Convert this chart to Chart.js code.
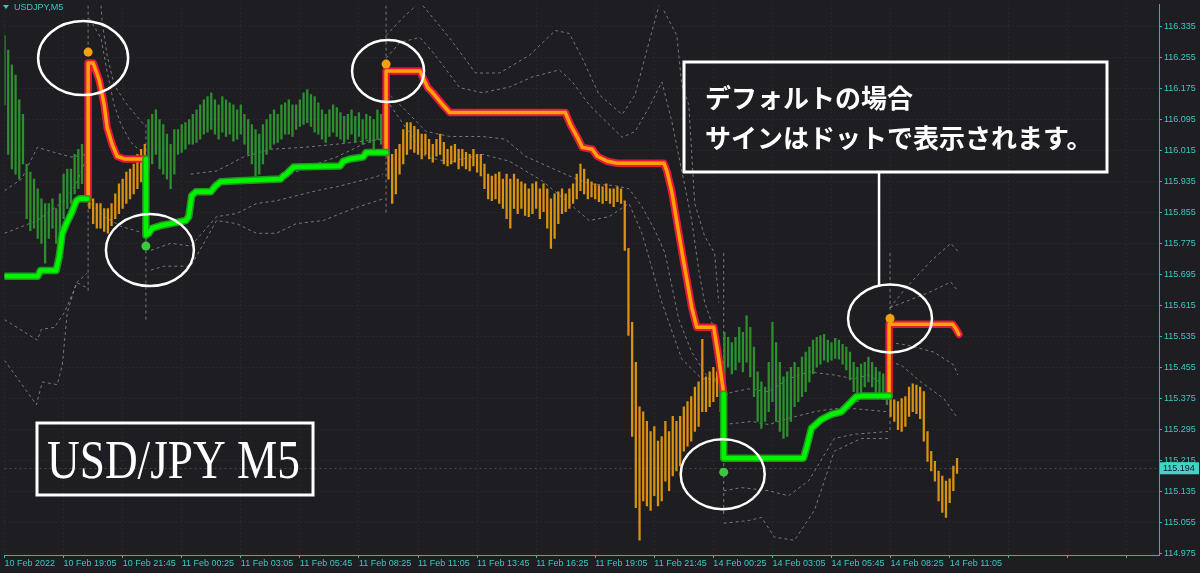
<!DOCTYPE html>
<html>
<head>
<meta charset="utf-8">
<title>USDJPY M5</title>
<script src="https://cdn.jsdelivr.net/npm/chart.js@4.4.1/dist/chart.umd.min.js"></script>
<style>
  html, body { margin: 0; padding: 0; background: #1d1d22; }
  #wrap { width: 1200px; height: 573px; }
</style>
</head>
<body>
<div id="wrap"><canvas id="chart" width="1200" height="573"></canvas></div>
<script>
// ---------------- Data ----------------
// x unit = one M5 bar, candles are kept every second bar
const timeLabels = ["10 Feb 2022", "10 Feb 19:05", "10 Feb 21:45", "11 Feb 00:25", "11 Feb 03:05",
  "11 Feb 05:45", "11 Feb 08:25", "11 Feb 11:05", "11 Feb 13:45", "11 Feb 16:25", "11 Feb 19:05",
  "11 Feb 21:45", "14 Feb 00:25", "14 Feb 03:05", "14 Feb 05:45", "14 Feb 08:25", "14 Feb 11:05"];
const barsPerLabel = 32;

const priceTicks = [114.975, 115.055, 115.135, 115.215, 115.295, 115.375, 115.455, 115.535, 115.615,
  115.695, 115.775, 115.855, 115.935, 116.015, 116.095, 116.175, 116.255, 116.335];
const lastPrice = 115.194;

const barHigh = [
  116.312,116.274,116.236,116.210,116.146,116.108,115.980,115.959,115.941,115.916,
  115.890,115.878,115.878,115.890,115.865,115.903,115.954,115.967,115.967,116.005,
  116.018,116.031,116.005,116.031,115.890,115.878,115.878,115.865,115.865,115.878,
  115.903,115.929,115.941,115.959,115.967,115.980,116.005,116.018,116.031,116.095,
  116.108,116.120,116.095,116.082,116.057,116.031,116.069,116.069,116.082,116.087,
  116.095,116.108,116.120,116.133,116.146,116.154,116.164,116.146,116.133,116.154,
  116.146,116.138,116.133,116.120,116.133,116.108,116.095,116.082,116.069,116.057,
  116.082,116.095,116.108,116.120,116.108,116.133,116.138,116.146,116.133,116.133,
  116.146,116.164,116.172,116.159,116.154,116.138,116.120,116.108,116.120,116.133,
  116.126,116.113,116.103,116.108,116.120,116.103,116.113,116.095,116.108,116.103,
  116.095,116.120,116.108,116.082,116.018,116.005,116.018,116.031,116.069,116.087,
  116.087,116.077,116.069,116.057,116.057,116.044,116.031,116.044,116.057,116.036,
  116.018,116.026,116.031,116.018,116.018,116.010,116.005,116.018,116.005,116.005,
  115.980,115.954,115.949,115.954,115.959,115.941,115.954,115.941,115.954,115.941,
  115.934,115.929,115.916,115.929,115.934,115.916,115.929,115.916,115.890,115.903,
  115.908,115.916,115.903,115.916,115.929,115.954,115.980,115.967,115.941,115.934,
  115.929,115.924,115.921,115.929,115.916,115.916,115.921,115.916,115.885,115.762,
  115.571,115.468,115.353,115.340,115.315,115.289,115.302,115.264,115.276,115.315,
  115.289,115.328,115.315,115.328,115.353,115.366,115.379,115.404,115.417,115.527,
  115.430,115.443,115.455,115.443,115.417,115.545,115.532,115.519,115.532,115.558,
  115.545,115.588,115.558,115.507,115.443,115.417,115.404,115.468,115.571,115.519,
  115.468,115.430,115.443,115.455,115.468,115.455,115.481,115.494,115.507,115.525,
  115.532,115.537,115.540,115.525,115.519,115.530,115.525,115.514,115.507,115.494,
  115.468,115.455,115.463,115.468,115.481,115.468,115.455,115.443,115.438,115.430,
  115.392,115.371,115.366,115.374,115.379,115.404,115.412,115.409,115.404,115.392,
  115.289,115.238,115.212,115.187,115.174,115.161,115.167,115.200,115.220
];
const barLow = [
  116.133,116.005,115.967,115.954,115.941,115.980,115.839,115.808,115.814,115.788,
  115.775,115.724,115.788,115.814,115.775,115.801,115.839,115.865,115.878,115.903,
  115.916,115.929,115.890,115.865,115.826,115.814,115.814,115.806,115.801,115.821,
  115.839,115.852,115.865,115.878,115.890,115.903,115.916,115.934,115.941,115.967,
  115.980,116.005,115.967,115.954,115.941,115.916,115.954,116.005,116.010,116.018,
  116.031,116.031,116.036,116.044,116.057,116.062,116.069,116.057,116.044,116.062,
  116.051,116.057,116.039,116.044,116.057,116.031,116.005,115.980,115.949,115.954,
  115.980,116.005,116.018,116.031,116.036,116.044,116.057,116.057,116.051,116.069,
  116.077,116.082,116.087,116.077,116.062,116.057,116.044,116.036,116.051,116.062,
  116.051,116.044,116.036,116.044,116.057,116.036,116.051,116.031,116.044,116.036,
  116.018,116.044,116.031,116.005,115.941,115.878,115.903,115.954,115.980,116.005,
  116.018,116.010,116.005,115.993,116.005,115.993,115.985,116.000,116.005,115.980,
  115.975,115.980,115.985,115.967,115.975,115.967,115.962,115.975,115.959,115.949,
  115.916,115.890,115.885,115.890,115.878,115.865,115.839,115.814,115.865,115.852,
  115.865,115.847,115.844,115.852,115.865,115.839,115.857,115.814,115.762,115.788,
  115.826,115.852,115.857,115.865,115.878,115.890,115.911,115.903,115.890,115.895,
  115.890,115.883,115.878,115.885,115.878,115.870,115.883,115.878,115.757,115.537,
  115.276,115.092,115.008,115.110,115.097,115.085,115.123,115.097,115.110,115.161,
  115.136,115.174,115.187,115.200,115.238,115.251,115.264,115.289,115.302,115.340,
  115.340,115.353,115.366,115.379,115.340,115.392,115.455,115.438,115.448,115.468,
  115.443,115.468,115.430,115.379,115.315,115.297,115.315,115.340,115.366,115.315,
  115.289,115.271,115.276,115.315,115.353,115.366,115.379,115.392,115.417,115.438,
  115.455,115.463,115.473,115.468,115.473,115.478,115.476,115.463,115.448,115.422,
  115.392,115.366,115.386,115.404,115.417,115.404,115.386,115.379,115.371,115.358,
  115.328,115.315,115.294,115.289,115.302,115.328,115.340,115.335,115.322,115.264,
  115.212,115.187,115.161,115.110,115.080,115.067,115.105,115.136,115.181
];

// trailing stop lines (null = break)
const greenX = [0, 18, 19.5, 28, 29.7, 31.3, 33.5, 36.2, 38.9, 40.5, 44.8, null,
  76.6, 76.6, 78.2, 79.9, 84.7, 90.1, 98.2, 99.8, 101.4, 103.6, 111.7, 114.4, 117.1, 124.1, 149.5,
  151.1, 152.7, 156.5, 181.8, 183.5, 187.2, 194.3, 195.9, 205.1, 206.7, null,
  389.6, 389.6, 432.8, 434.4, 437.1, 442.5, 447.9, 453.3, 456, 461.4, 465.1, 479.2];
const greenY = [115.690, 115.690, 115.705, 115.705, 115.742, 115.801, 115.826, 115.852, 115.885, 115.890, 115.890, null,
  115.993, 115.796, 115.801, 115.814, 115.821, 115.826, 115.834, 115.844, 115.898, 115.908, 115.908, 115.924, 115.934, 115.936, 115.941,
  115.949, 115.954, 115.972, 115.975, 115.987, 115.993, 115.998, 116.010, 116.010, 116.010, null,
  115.386, 115.220, 115.220, 115.246, 115.297, 115.320, 115.333, 115.340, 115.353, 115.379, 115.381, 115.381];

const redX = [45.3, 45.3, 48, 51.3, 54, 55.6, 58.3, 61, 64.8, 76.6, null,
  206.7, 206.7, 225, 229.3, 232, 237.4, 241.2, 303.8, 306.5, 310.3, 313, 318.4, 321.1, 326.5, 331.9,
  357.2, 358.8, 361.5, 364.2, 366.9, 372.3, 375, 384.2, 386.4, 388.5, 389.6, null,
  479.2, 479.2, 513.7, 515.3, 517];
const redY = [115.890, 116.241, 116.241, 116.197, 116.133, 116.074, 116.031, 116.000, 115.993, 115.993, null,
  116.010, 116.220, 116.220, 116.177, 116.164, 116.133, 116.113, 116.113, 116.082, 116.049, 116.023, 116.018, 116.000, 115.987, 115.982,
  115.982, 115.962, 115.908, 115.831, 115.755, 115.609, 115.558, 115.558, 115.494, 115.425, 115.386, null,
  115.381, 115.566, 115.566, 115.555, 115.540];

// signal dots
const sellX = [45.3, 206.7, 479.7];
const sellY = [116.269, 116.238, 115.581];
const buyX = [76.6, 389.6];
const buyY = [115.768, 115.184];

// dashed band lines
const band1X = [0, 9.2, 17.8, 27, 36.2, 44.2, null,
  45.9, 52.3, 55.6, 59.4, 63.1, 68.5, 75.5, null,
  100.9, 114.9, 129.5, 144.1, 161.9, 179.7, 194.3, 205.1, null,
  208.8, 228.3, 241.2, 259, 273.6, 291.4, 306, 316.7, 327.5, 338.3, 345.3, 356.1, 366.9, 377.7, 386.9, null,
  389.6, 399.3, 413.9, 424.7, 435.5, 449.5, 460.3, 478.6, null,
  479.7, 485.6, 496.4, 508.8, 516.4];
const band1Y = [115.911, 115.941, 116.023, 116.010, 115.998, 116.005, null,
  116.356, 116.305, 116.218, 116.133, 116.082, 116.036, 116.005, null,
  115.954, 115.962, 115.998, 116.018, 116.023, 116.031, 116.039, 116.044, null,
  116.133, 115.998, 115.985, 116.005, 115.987, 115.936, 115.878, 115.834, 115.844, 115.878, 115.801, 115.622, 115.476, 115.425, 115.425, null,
  115.136, 115.144, 115.136, 115.123, 115.161, 115.271, 115.282, 115.289, null,
  115.468, 115.461, 115.417, 115.374, 115.323];

const band2X = [0, 17.8, 32.4, 38.9, 43.2, null,
  52.3, 52.9, 55.6, 59.4, 66.4, 75.5, null,
  79.3, 90.1, 100.9, 114.9, 125.7, 136.5, 147.3, 158.1, 168.9, 179.7, 190.5, 201.3, 205.1, null,
  206.7, 215.8, 228.3, 241.2, 259, 271.4, 282.2, 295.2, 306, 316.7, 330.8, 338.3, 345.3, 352.4, 357.8, 361.5, 365.3, 372.3, 381.5, 386.9, null,
  389.6, 404.7, 413.9, 424.7, 438.7, 449.5, 460.3, 478.6, null,
  479.7, 489.4, 503.5, 514.2, 516.4];
const band2Y = [115.801, 115.834, 115.885, 115.929, 115.980, null,
  116.389, 116.346, 116.261, 116.184, 116.133, 116.082, null,
  115.757, 115.775, 115.768, 115.844, 115.852, 115.878, 115.885, 115.898, 115.911, 115.921, 115.934, 115.947, 115.954, null,
  116.166, 116.126, 116.064, 116.051, 116.051, 116.044, 116.000, 115.972, 115.949, 115.929, 115.924, 115.916, 115.870, 115.808, 115.750, 115.665, 115.578, 115.494, 115.425, 115.417, null,
  115.307, 115.315, 115.307, 115.323, 115.340, 115.348, 115.348, 115.340, null,
  115.519, 115.512, 115.494, 115.461, 115.435];

const band3X = [0, 17.8, 20, 27, 32.4, 39.4, 44.8, null,
  46.9, 54, 63.1, 75.5, null,
  79.3, 86.3, 100.9, 114.9, 125.7, 136.5, 147.3, 158.1, 172.7, 188.9, 205.1, null,
  206.7, 214.2, 225, 232, 246.6, 259, 273.6, 286, 300.6, 307.6, 316.7, 327.5, 334.6, 341.6, 349.1, 356.1, 361.5, 366.9, 372.3, 376.1, 379.3, 386.9, null,
  389.6, 395.5, 403.1, 413.9, 424.7, 435.5, 449.5, 460.3, 467.8, 476.5, null,
  479.7, 500.2, 512.6, 516.4];
const band3Y = [115.578, 115.525, 115.553, 115.558, 115.596, 115.673, 115.660, null,
  115.878, 115.844, 115.819, 115.801, null,
  115.706, 115.716, 115.716, 115.834, 115.826, 115.801, 115.801, 115.826, 115.834, 115.865, 115.890, null,
  116.253, 116.294, 116.307, 116.269, 116.177, 116.164, 116.179, 116.205, 116.223, 116.192, 116.133, 116.082, 116.049, 116.064, 116.126, 116.192, 116.090, 115.962, 115.834, 115.706, 115.622, 115.519, null,
  115.384, 115.392, 115.399, 115.392, 115.425, 115.443, 115.435, 115.425, 115.435, 115.410, null,
  115.609, 115.647, 115.675, 115.652];

const band4X = [0, 17.3, 20.5, 28.6, 31.3, 34, 38.9, 44.8, null,
  154.9, 168.9, 179.7, 194.3, 205.1, null,
  206.7, 215.8, 222.9, null,
  226.6, 241.2, 255.2, 268.2, 284.4, 298.4, 306, 313, 322.1, 334.6, 341.6, 349.1, 354.5, null,
  357.2, 364.2, 366.9, 370.7, 373.9, 379.3, 384.7, 386.9, null,
  389.6, 403.1, 410.1, 417.1, 427.9, 438.7, 449.5, 464.1, 478.6, null,
  479.7, 488.3, 501.8, 512.6, 516.4];
const band4Y = [115.473, 115.358, 115.417, 115.410, 115.461, 115.596, 115.673, 115.698, null,
  115.954, 115.980, 115.998, 116.031, 116.049, null,
  116.312, 116.358, 116.389, null,
  116.389, 116.305, 116.215, 116.215, 116.261, 116.325, 116.317, 116.253, 116.159, 116.108, 116.159, 116.294, 116.389, null,
  116.376, 116.312, 116.184, 116.133, 115.878, 115.793, 115.750, 115.622, null,
  115.052, 115.059, 115.067, 115.016, 115.008, 115.085, 115.238, 115.271, 115.271, null,
  115.609, 115.660, 115.729, 115.775, 115.755];

// dashed verticals through the signal bars
const vlineX = [45.3, 76.6, 206.7, 389.6, 479.7];
const vlineTop = [116.389, 116.082, 116.389, 115.750, 115.750];
const vlineBottom = [115.647, 115.571, 115.852, 115.067, 115.289];

const symbolLabel = "USDJPY,M5";
const pairLabel = "USD/JPY M5";
const noteLines = ["デフォルトの場合", "サインはドットで表示されます。"];

// ---------------- Style ----------------
const BG = "#1d1d22";
const TEAL = "#3cc8c2";
const AXIS = "#2bb8b0";
const GRID = "#303037";
const UP_BAR = "#2c912c";
const DOWN_BAR = "#dc920f";
const BAND = "rgba(150,150,156,0.75)";
const TICK_FONT = { family: '"Liberation Sans", Arial, sans-serif', size: 9 };

// rings drawn round each dot (offset and radii in px)
const sellRings = [{ dx: -5, dy: 6, rx: 45, ry: 37 }, { dx: 2, dy: 7, rx: 36, ry: 31 }, { dx: 0, dy: 0, rx: 42, ry: 34 }];
const buyRings = [{ dx: 4, dy: 4, rx: 44, ry: 36 }, { dx: -1, dy: 2, rx: 42, ry: 35 }];

// ---------------- Helpers ----------------
function toPoints(xs, ys) {
  return xs.map((x, i) => ({ x: x, y: ys[i] }));
}

function isDown(bar) {
  const signals = sellX.map(s => ({ at: s, down: true }))
    .concat(buyX.map(b => ({ at: b, down: false })))
    .sort((a, b) => a.at - b.at);
  let down = false;
  signals.forEach(s => { if (bar >= s.at - 0.5) down = s.down; });
  return down;
}

function bandSet(xs, ys) {
  return {
    type: "line", data: toPoints(xs, ys), borderColor: BAND, borderWidth: 1,
    borderDash: [3, 3], pointRadius: 0, spanGaps: false, order: 20
  };
}

function trendSet(xs, ys, color, width, order) {
  return {
    type: "line", data: toPoints(xs, ys), borderColor: color, borderWidth: width,
    borderJoinStyle: "round", borderCapStyle: "round", pointRadius: 0,
    spanGaps: false, tension: 0, order: order
  };
}

const candleData = barHigh.map((h, i) => ({ x: i * 2, y: [barLow[i], h] }));
const candleColors = candleData.map(d => isDown(d.x) ? DOWN_BAR : UP_BAR);

const vlineData = [];
vlineX.forEach((x, i) => {
  vlineData.push({ x: x, y: vlineTop[i] }, { x: x, y: vlineBottom[i] }, { x: null, y: null });
});

const gridBars = [];
for (let k = 0; k < 20; k++) gridBars.push(k * barsPerLabel);

// ---------------- Plugins ----------------
const background = {
  id: "background",
  beforeDraw(chart) {
    const ctx = chart.ctx;
    ctx.save();
    ctx.fillStyle = BG;
    ctx.fillRect(0, 0, chart.width, chart.height);
    ctx.restore();
  }
};

const priceLine = {
  id: "priceLine",
  beforeDatasetsDraw(chart) {
    const { ctx, chartArea, scales } = chart;
    const y = Math.round(scales.y.getPixelForValue(lastPrice)) + 0.5;
    ctx.save();
    ctx.strokeStyle = "rgba(120,120,128,0.45)";
    ctx.setLineDash([2, 3]);
    ctx.beginPath();
    ctx.moveTo(chartArea.left, y);
    ctx.lineTo(chartArea.right, y);
    ctx.stroke();
    ctx.restore();
  }
};

function ring(ctx, cx, cy, rx, ry) {
  ctx.beginPath();
  ctx.ellipse(cx, cy, rx, ry, 0, 0, Math.PI * 2);
  ctx.stroke();
}

const notes = {
  id: "notes",
  afterDraw(chart) {
    const { ctx, chartArea, scales } = chart;
    const sx = scales.x, sy = scales.y;
    ctx.save();

    // rings
    ctx.strokeStyle = "#ffffff";
    ctx.lineWidth = 2.5;
    const ringPos = [];
    sellX.forEach((x, i) => {
      const r = sellRings[i];
      const c = { x: sx.getPixelForValue(x) + r.dx, y: sy.getPixelForValue(sellY[i]) + r.dy, rx: r.rx, ry: r.ry };
      ringPos.push(c);
      ring(ctx, c.x, c.y, c.rx, c.ry);
    });
    buyX.forEach((x, i) => {
      const r = buyRings[i];
      ring(ctx, sx.getPixelForValue(x) + r.dx, sy.getPixelForValue(buyY[i]) + r.dy, r.rx, r.ry);
    });

    // note box + connector to the last ring
    const box = { left: 684, top: 62, right: 1107, bottom: 172 };
    ctx.lineWidth = 3;
    ctx.strokeRect(box.left, box.top, box.right - box.left, box.bottom - box.top);
    const last = ringPos[ringPos.length - 1];
    const lx = last.x - 11;
    const ly = last.y - last.ry * Math.sqrt(1 - Math.pow((lx - last.x) / last.rx, 2));
    ctx.lineWidth = 2.5;
    ctx.beginPath();
    ctx.moveTo(lx, box.bottom);
    ctx.lineTo(lx, ly);
    ctx.stroke();

    ctx.fillStyle = "#ffffff";
    ctx.font = 'bold 26px "Noto Sans CJK JP", sans-serif';
    ctx.textBaseline = "middle";
    ctx.textAlign = "left";
    ctx.fillText(noteLines[0], 705, 98);
    ctx.fillText(noteLines[1], 705, 138);

    // pair box
    ctx.lineWidth = 3;
    ctx.strokeRect(37, 423, 276, 72);
    ctx.font = '54px "Liberation Serif", serif';
    ctx.textBaseline = "alphabetic";
    const w = ctx.measureText(pairLabel).width;
    ctx.save();
    ctx.translate(47, 478);
    ctx.scale(253 / w, 1);
    ctx.fillText(pairLabel, 0, 0);
    ctx.restore();

    // symbol caption top-left
    ctx.fillStyle = TEAL;
    ctx.beginPath();
    ctx.moveTo(3, 5);
    ctx.lineTo(9, 5);
    ctx.lineTo(6, 9);
    ctx.closePath();
    ctx.fill();
    ctx.font = '9px "Liberation Sans", Arial, sans-serif';
    ctx.textBaseline = "middle";
    ctx.fillText(symbolLabel, 14, 7.5);

    // current price tag
    const py = sy.getPixelForValue(lastPrice);
    ctx.fillStyle = "#45d1c8";
    ctx.fillRect(chartArea.right + 1, py - 6, 39, 12);
    ctx.fillStyle = "#15151a";
    ctx.fillText(lastPrice.toFixed(3), chartArea.right + 4, py + 0.5);

    ctx.restore();
  }
};

// ---------------- Chart ----------------
new Chart(document.getElementById("chart"), {
  type: "line",
  data: {
    datasets: [
      bandSet(band1X, band1Y),
      bandSet(band2X, band2Y),
      bandSet(band3X, band3Y),
      bandSet(band4X, band4Y),
      { type: "line", data: vlineData, borderColor: BAND, borderWidth: 1, borderDash: [3, 3], pointRadius: 0, spanGaps: false, order: 20 },
      {
        type: "bar", data: candleData, backgroundColor: candleColors,
        barThickness: 1.6, borderWidth: 0, order: 15
      },
      trendSet(redX, redY, "#e5173f", 7.5, 9),
      trendSet(redX, redY, "#ffa200", 3.5, 8),
      trendSet(greenX, greenY, "#1f9a1f", 7.5, 7),
      trendSet(greenX, greenY, "#00f400", 4.5, 6),
      { type: "line", data: toPoints(sellX, sellY), showLine: false, pointRadius: 4.5, pointBackgroundColor: "#f4a20c", pointBorderWidth: 0, order: 1 },
      { type: "line", data: toPoints(buyX, buyY), showLine: false, pointRadius: 4.5, pointBackgroundColor: "#3cc83c", pointBorderWidth: 0, order: 1 }
    ]
  },
  options: {
    responsive: false,
    animation: false,
    events: [],
    layout: { padding: 0 },
    plugins: { legend: { display: false }, tooltip: { enabled: false } },
    scales: {
      x: {
        type: "linear", min: 0, max: 625.4, offset: false,
        afterBuildTicks: axis => { axis.ticks = gridBars.map(v => ({ value: v })); },
        afterFit: axis => { axis.height = 18; axis.paddingLeft = 0; axis.paddingRight = 0; },
        grid: { color: GRID, offset: false, tickColor: AXIS, tickLength: 3, tickBorderDash: [] },
        border: { color: AXIS, width: 1, dash: [1, 3] },
        ticks: {
          color: TEAL, font: TICK_FONT, align: "start", padding: 0,
          autoSkip: false, maxRotation: 0, minRotation: 0,
          callback: (v, i) => timeLabels[i] || ""
        }
      },
      y: {
        type: "linear", position: "right", min: 114.970, max: 116.392,
        afterBuildTicks: axis => { axis.ticks = priceTicks.map(v => ({ value: v })); },
        afterFit: axis => { axis.width = 41; axis.paddingTop = 0; axis.paddingBottom = 0; },
        grid: { color: GRID, tickColor: AXIS, tickLength: 3, tickBorderDash: [] },
        border: { color: AXIS, width: 1, dash: [1, 3] },
        ticks: { color: TEAL, font: TICK_FONT, padding: 2, callback: v => v.toFixed(3) }
      }
    }
  },
  plugins: [background, priceLine, notes]
});
</script>
</body>
</html>
